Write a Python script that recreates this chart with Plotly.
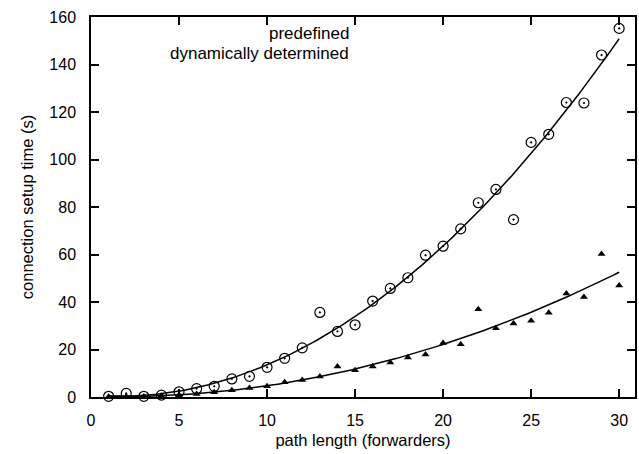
import numpy as np
import plotly.graph_objects as go

path_length = list(range(1, 31))
predefined = [0.1, 0.2, 0.2, 0.5, 0.8, 1.3, 2.0, 2.8, 3.8, 4.5,
              6.2, 7.2, 8.6, 12.8, 11.3, 12.8, 14.5, 16.6, 17.9, 22.7,
              22.2, 37.0, 29.0, 31.0, 32.1, 35.5, 43.6, 42.1, 60.2, 46.9]
dynamic = [0.3, 1.5, 0.3, 0.8, 2.2, 3.5, 4.5, 7.6, 8.7, 12.5,
           16.3, 20.7, 35.6, 27.6, 30.4, 40.4, 45.7, 50.2, 59.7, 63.5,
           70.8, 81.8, 87.4, 74.7, 107.2, 110.6, 124.0, 123.8, 144.0, 155.2]
series_names = ["predefined", "dynamically determined"]
x_ticks = [0, 5, 10, 15, 20, 25, 30]
y_ticks = [0, 20, 40, 60, 80, 100, 120, 140, 160]

x = np.array(path_length, dtype=float)
xf = np.linspace(1, 30, 200)
fit_pre = np.polyval(np.polyfit(x, predefined, 2), xf)
fit_dyn = np.polyval(np.polyfit(x, dynamic, 2), xf)

FONT = "Liberation Sans, Arial, Helvetica, sans-serif"

fig = go.Figure()
fig.add_trace(go.Scatter(x=path_length, y=predefined, mode="markers",
                         name=series_names[0],
                         marker=dict(symbol="triangle-up", size=7, color="black",
                                     line=dict(width=0)),
                         cliponaxis=False))
fig.add_trace(go.Scatter(x=path_length, y=dynamic, mode="markers",
                         name=series_names[1],
                         marker=dict(symbol="circle-open-dot", size=10, color="black",
                                     line=dict(width=1.2, color="black")),
                         cliponaxis=False))
fig.add_trace(go.Scatter(x=xf, y=fit_dyn, mode="lines",
                         line=dict(color="black", width=1.5), showlegend=False))
fig.add_trace(go.Scatter(x=xf, y=fit_pre, mode="lines",
                         line=dict(color="black", width=1.5), showlegend=False))

fig.add_annotation(x=14.75, y=153.0, xref="x", yref="y", text=series_names[0],
                   showarrow=False, xanchor="right", yanchor="middle",
                   font=dict(family=FONT, size=17, color="black"))
fig.add_annotation(x=14.75, y=144.6, xref="x", yref="y", text=series_names[1],
                   showarrow=False, xanchor="right", yanchor="middle",
                   font=dict(family=FONT, size=17, color="black"))

axis_common = dict(showline=True, linecolor="black", linewidth=1.5, mirror="ticks",
                   ticks="inside", ticklen=8, tickwidth=1.5, tickcolor="black",
                   showgrid=False, zeroline=False,
                   tickfont=dict(family=FONT, size=16, color="black"))

fig.update_xaxes(range=[0, 30.9], tickvals=x_ticks, ticktext=[str(v) for v in x_ticks],
                 title=dict(text="path length (forwarders)", standoff=6,
                            font=dict(family=FONT, size=16.5, color="black")),
                 ticklabelstandoff=8, **axis_common)
fig.update_yaxes(range=[0, 160], tickvals=y_ticks, ticktext=[str(v) for v in y_ticks],
                 title=dict(text="connection setup time (s)", standoff=12,
                            font=dict(family=FONT, size=16.5, color="black")),
                 ticklabelstandoff=10, **axis_common)

fig.update_layout(width=639, height=454, showlegend=False,
                  margin=dict(l=91, r=2, t=17, b=57),
                  plot_bgcolor="white", paper_bgcolor="white",
                  font=dict(family=FONT, size=16, color="black"))

fig.write_html("out.html", config={"displayModeBar": False},
               post_script="document.body.style.margin='0';document.body.style.overflow='hidden';")
